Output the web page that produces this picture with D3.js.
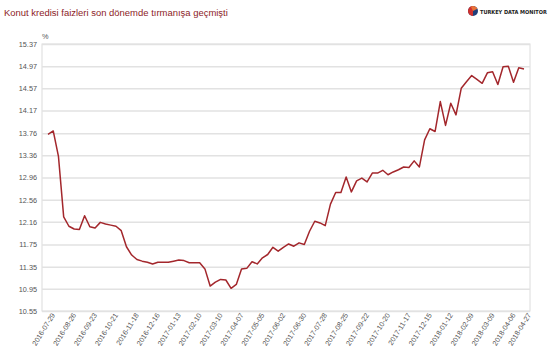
<!DOCTYPE html>
<html><head><meta charset="utf-8">
<script src="https://cdn.jsdelivr.net/npm/d3@7"></script>
<style>
html,body{margin:0;padding:0;background:#fff;}
svg{display:block;font-family:"Liberation Sans",Arial,sans-serif;}
</style></head>
<body><svg id="c" width="555" height="355"></svg>
<script>
const title = "Konut kredisi faizleri son dönemde tırmanışa geçmişti";
const brand = "TURKEY DATA MONITOR";
const unit = "%";
const startDate = "2016-07-29";
const endDate = "2018-04-27";
const xTickLabels = ["2016-07-29","2016-08-26","2016-09-23","2016-10-21","2016-11-18","2016-12-16",
  "2017-01-13","2017-02-10","2017-03-10","2017-04-07","2017-05-05","2017-06-02","2017-06-30",
  "2017-07-28","2017-08-25","2017-09-22","2017-10-20","2017-11-17","2017-12-15","2018-01-12",
  "2018-02-09","2018-03-09","2018-04-06","2018-04-27"];
const yTickLabels = ["10.55","10.95","11.35","11.75","12.16","12.56","12.96","13.36","13.76","14.17","14.57","14.97","15.37"];
// weekly mortgage rate values (%)
const rates = [13.74,13.80,13.34,12.25,12.08,12.03,12.02,12.27,12.07,12.05,
  12.15,12.12,12.10,12.08,12.00,11.71,11.56,11.48,11.45,11.43,
  11.40,11.43,11.43,11.43,11.45,11.47,11.46,11.42,11.42,11.42,
  11.31,11.00,11.07,11.12,11.11,10.96,11.03,11.31,11.32,11.44,
  11.40,11.51,11.57,11.70,11.63,11.70,11.76,11.72,11.78,11.75,
  11.99,12.17,12.14,12.09,12.48,12.69,12.69,12.97,12.70,12.90,
  12.95,12.88,13.04,13.04,13.09,13.01,13.06,13.10,13.15,13.14,
  13.26,13.15,13.64,13.84,13.79,14.33,13.90,14.30,14.09,14.57,
  14.69,14.80,14.73,14.66,14.85,14.87,14.64,14.96,14.97,14.68,
  14.94,14.92];

const parse = d3.timeParse("%Y-%m-%d");
const fmt = d3.timeFormat("%Y-%m-%d");
const start = parse(startDate);
const data = rates.map((v,i)=>({date:d3.timeDay.offset(start,7*i), v}));

const svg = d3.select("#c");
const frame = {l:42, r:530, t:44, b:311};
const x = d3.scaleTime().domain([start, parse(endDate)]).range([48, 524]);
const y = d3.scaleLinear().domain([+yTickLabels[0], +yTickLabels[yTickLabels.length-1]]).range([frame.b, frame.t]);

// title
const t = svg.append("text").attr("x",4).attr("y",16).attr("fill","#8c1c1f")
  .style("font-size","10.5px").text(title);
const tw = t.node().getComputedTextLength();
t.style("font-size", (10.5*224/tw).toFixed(2)+"px");

// brand logo
const lg = svg.append("g").attr("transform","translate(473,11)");
lg.append("circle").attr("r",5).attr("fill","#1f3f7a");
lg.append("path").attr("d", d3.arc()({innerRadius:0,outerRadius:5,startAngle:Math.PI*1.0,endAngle:Math.PI*2.0})).attr("fill","#d0312d");
lg.append("path").attr("d", d3.arc()({innerRadius:0,outerRadius:5,startAngle:-Math.PI*0.15,endAngle:Math.PI*0.35})).attr("fill","#e8733a");
const b = svg.append("text").attr("x",480).attr("y",14).attr("fill","#222")
  .style("font-family","'DejaVu Sans Condensed','DejaVu Sans',sans-serif").style("font-weight","bold")
  .style("font-size","7.5px").text(brand);
const bw = b.node().getComputedTextLength();
b.style("font-size", (7.5*67/bw).toFixed(2)+"px");

// frame
svg.append("rect").attr("x",frame.l).attr("y",frame.t).attr("width",frame.r-frame.l).attr("height",frame.b-frame.t)
  .attr("fill","none").attr("stroke","#dcdcdc").attr("stroke-width",1);

// y axis + grid
const ya = svg.append("g").attr("transform",`translate(${frame.l},0)`)
  .call(d3.axisLeft(y).tickValues(yTickLabels.map(Number)).tickFormat((d,i)=>yTickLabels[i]).tickSize(-(frame.r-frame.l)).tickPadding(5));
ya.select(".domain").remove();
ya.selectAll(".tick line").attr("stroke","#e2e2e2").attr("stroke-width",1.5);
ya.selectAll(".tick text").attr("fill","#555").style("font-size","7.3px").style("font-family","'Liberation Sans',Arial,sans-serif");

svg.append("text").attr("x",42).attr("y",39).attr("fill","#555").style("font-size","7.3px").text(unit);

// x axis
const xa = svg.append("g").attr("transform",`translate(0,${frame.b})`)
  .call(d3.axisBottom(x).tickValues(xTickLabels.map(parse)).tickFormat(fmt).tickSize(0));
xa.select(".domain").remove();
xa.selectAll(".tick text").attr("fill","#555").style("font-size","7.2px")
  .style("font-family","'Liberation Sans',Arial,sans-serif")
  .attr("text-anchor","end").attr("y",0).attr("dy",0)
  .attr("transform","translate(7,4) rotate(-58)");

// line
svg.append("path").datum(data).attr("fill","none").attr("stroke","#a3272c").attr("stroke-width",1.5)
  .attr("stroke-linejoin","round")
  .attr("d", d3.line().x(d=>x(d.date)).y(d=>y(d.v)));
</script></body></html>
